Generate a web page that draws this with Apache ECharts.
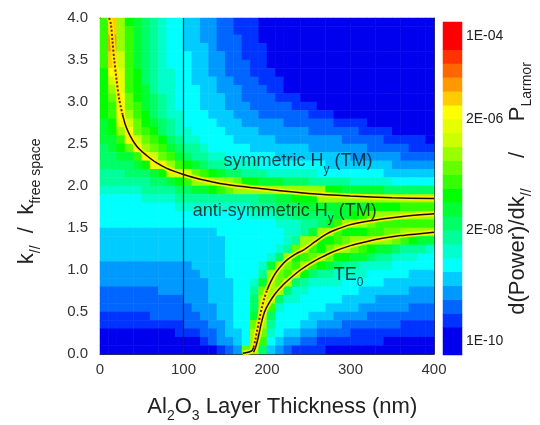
<!DOCTYPE html>
<html>
<head>
<meta charset="utf-8">
<script src="https://cdn.jsdelivr.net/npm/echarts@6/dist/echarts.min.js"></script>
<style>
html, body { margin: 0; padding: 0; background: #fff; }
#main { width: 540px; height: 425px; }
</style>
</head>
<body>
<div id="main"></div>
<script>
// contour level of each cell, one string per row (top row first)
// rows: k = 3.95 ... 0.05, columns: thickness 5 ... 395 nm
// codes 0-9 a-l -> level 0..21 (0 = 1E-10 end of the colour bar, 21 = 1E-04 end)
var levelRows = [
    "bhda987655" + "4433221110" + "0000000000" + "0000000000",
    "bhdb987655" + "4433221110" + "0000000000" + "0000000000",
    "bidb987655" + "4433222110" + "0000000000" + "0000000000",
    "bidb987655" + "4443222111" + "0000000000" + "0000000000",
    "bheb987655" + "5443322111" + "0000000000" + "0000000000",
    "bheb987655" + "5443322211" + "0000000000" + "0000000000",
    "agfba87665" + "5443322211" + "1000000000" + "0000000000",
    "aefba87665" + "5444332221" + "1100000000" + "0000000000",
    "adfba97665" + "5544333222" + "1100000000" + "0000000000",
    "acgca98765" + "5544433222" + "2111000000" + "0000000000",
    "abgcb98765" + "5544433322" + "2221110000" + "0000000000",
    "abgdba8766" + "5554443332" + "2222211100" + "0000000000",
    "9afeca9876" + "5555444333" + "3322222211" + "1100000000",
    "9adgcba876" + "6555544443" + "3333322222" + "2111100000",
    "99bgecba87" + "6655554444" + "4333333332" + "2222111110",
    "89acgdcb98" + "7765555544" + "4444433333" + "3322222111",
    "8899bgecb9" + "8776655555" + "5444444444" + "3333332222",
    "88889affdb" + "a987766665" + "5555555444" + "4444433333",
    "7778889aee" + "ecba988777" + "6666665555" + "5555444444",
    "777777889a" + "bdddddcaa9" + "9988877777" + "6666655555",
    "6666677778" + "899abcdddd" + "dddddddaa9" + "9999888888",
    "5555566667" + "7777777778" + "899aaadddd" + "dddddddddd",
    "5555555556" + "6666666677" + "7888999999" + "99aaaabbbb",
    "5555555555" + "5555555566" + "6778888899" + "abcddddddd",
    "5555555555" + "5555555555" + "56667789bd" + "ddcbbbbbbb",
    "4444444444" + "4444555555" + "556679ddba" + "aabbccdddd",
    "4444444444" + "4444455555" + "5567ddaabc" + "dddddcba99",
    "4444444444" + "4444455555" + "567cdbacdd" + "cba9987776",
    "4444444444" + "4444455555" + "68dabcdcaa" + "9987766655",
    "3333333333" + "3444455556" + "9dcbdba987" + "7666655555",
    "3333333333" + "3344455557" + "dcbda87766" + "6655555444",
    "3333333333" + "3334445569" + "dcd8766665" + "5555444444",
    "2222222333" + "333444557c" + "dd86655555" + "5444444333",
    "2222222222" + "333444558d" + "d866555554" + "4443333333",
    "2222222222" + "233344558d" + "b655555444" + "4333333222",
    "1111112222" + "223344559d" + "8555544433" + "3322222222",
    "1111111111" + "22233455cd" + "7555443332" + "2222221111",
    "0000000001" + "11223445dc" + "6544332222" + "1111111111",
    "0000000000" + "00123345db" + "5433221111" + "1111000000",
    "0000000000" + "0000123cd8" + "4321111000" + "0000000000"
];

// cell centres
var thickness = [5, 15, 25, 35, 45, 55, 65, 75, 85, 95, 105, 115, 125, 135, 145, 155, 165, 175, 185, 195,
                 205, 215, 225, 235, 245, 255, 265, 275, 285, 295, 305, 315, 325, 335, 345, 355, 365, 375, 385, 395];
var kRatio = [0.05, 0.15, 0.25, 0.35, 0.45, 0.55, 0.65, 0.75, 0.85, 0.95, 1.05, 1.15, 1.25, 1.35, 1.45, 1.55,
              1.65, 1.75, 1.85, 1.95, 2.05, 2.15, 2.25, 2.35, 2.45, 2.55, 2.65, 2.75, 2.85, 2.95, 3.05, 3.15,
              3.25, 3.35, 3.45, 3.55, 3.65, 3.75, 3.85, 3.95];

// colour bar: 22 levels, blue -> cyan -> green -> yellow -> red
var levelColors = ['#0000ee', '#0033ff', '#0066ff', '#0099ff', '#00ccff', '#00ffff', '#00ffcc', '#00ff99',
                   '#00ff66', '#00ff33', '#00ff00', '#33ff00', '#66ff00', '#99ff00', '#ccff00', '#e6ff00',
                   '#ffff00', '#ffcc00', '#ff9900', '#ff6600', '#ff3300', '#ff0000'];
// colour bar cells bottom to top (end levels are twice as tall)
var colorbarLevels = [0, 0, 1, 2, 3, 4, 5, 6, 7, 8, 9, 10, 11, 12, 13, 14, 15, 16, 17, 18, 19, 20, 21, 21];
var colorbarTicks = [1, 9, 17, 23];
var colorbarText = ['1E-10', '2E-08', '2E-06', '1E-04'];

// mode curves
var symX = [11, 13, 15, 17, 20, 23, 27, 31, 36, 42, 47, 55, 67, 80, 99, 120, 150, 200, 250, 300, 350, 400];
var symK = [4.0, 3.93, 3.72, 3.51, 3.25, 3.03, 2.85, 2.71, 2.6, 2.5, 2.44, 2.37, 2.28, 2.21, 2.14, 2.08, 2.02, 1.96, 1.91, 1.88, 1.86, 1.85];
var antiX = [171, 177, 182, 184, 186, 188, 190, 192, 194, 197, 200, 205, 210, 216, 224, 234, 244, 258, 270, 280, 300, 320, 340, 360, 380, 400];
var antiK = [0.01, 0.02, 0.04, 0.08, 0.17, 0.27, 0.37, 0.47, 0.56, 0.67, 0.76, 0.87, 0.96, 1.04, 1.12, 1.19, 1.24, 1.34, 1.42, 1.47, 1.54, 1.58, 1.61, 1.635, 1.655, 1.67];
var teX = [184, 187, 190, 193, 197, 202, 210, 220, 230, 240, 252, 265, 280, 300, 320, 340, 360, 380, 400];
var teK = [0.02, 0.1, 0.22, 0.36, 0.5, 0.6, 0.72, 0.83, 0.92, 1.0, 1.08, 1.15, 1.22, 1.29, 1.34, 1.38, 1.41, 1.43, 1.45];
// the steep stretches are drawn dotted in the original: [first, last] point index
var symDotted = [0, 6];
var antiDotted = [3, 10];
var guideThickness = 100;

var notes = [
    { text: '{t|symmetric H}{s|y}{t| (TM)}', at: [148, 2.28] },
    { text: '{t|anti-symmetric H}{s|y}{t| (TM)}', at: [111, 1.69] },
    { text: '{t|TE}{s|0}', at: [280, 0.93] }
];

var FONT = "'Liberation Sans', Arial, sans-serif";

function pairs(xs, ys) {
    return xs.map(function (x, i) { return [x, ys[i]]; });
}

var heatData = [];
levelRows.forEach(function (row, r) {
    for (var c = 0; c < row.length; c++) {
        heatData.push([c, levelRows.length - 1 - r, parseInt(row.charAt(c), 36)]);
    }
});
var barData = colorbarLevels.map(function (lv, i) { return [0, i, lv]; });

var pieces = levelColors.map(function (col, i) { return { value: i, color: col }; });

var nameRich = {
    a: { fontSize: 22, lineHeight: 24, verticalAlign: 'top', color: '#222', fontFamily: FONT },
    s: { fontSize: 14, lineHeight: 13, padding: [13, 0, 0, 0], verticalAlign: 'top', color: '#222', fontFamily: FONT }
};
var noteRich = {
    t: { fontSize: 18, lineHeight: 20, verticalAlign: 'top', color: '#111', fontFamily: FONT },
    s: { fontSize: 12, lineHeight: 11, padding: [11, 0, 0, 0], verticalAlign: 'top', color: '#111', fontFamily: FONT }
};

var frameLine = { show: true, onZero: false, lineStyle: { color: '#333', width: 1 } };
var tickIn = { show: true, inside: true, length: 5, lineStyle: { color: '#333' } };
var minorIn = { show: true, splitNumber: 2, length: 5, lineStyle: { color: '#333' } };

function lineSeries(data, style, z) {
    return {
        type: 'line', xAxisIndex: 0, yAxisIndex: 0, data: data,
        showSymbol: false, smooth: 0.3, silent: true, lineStyle: style, z: z
    };
}

// halo, solid core and dotted steep part of one mode curve
function curve(xs, ys, dotted) {
    var pts = pairs(xs, ys);
    var out = [lineSeries(pts, { color: '#ffee00', width: 5, opacity: 0.9 }, 3)];
    if (!dotted) {
        out.push(lineSeries(pts, { color: '#1a0a00', width: 1.5 }, 4));
        return out;
    }
    if (dotted[0] > 0) {
        out.push(lineSeries(pts.slice(0, dotted[0] + 1), { color: '#1a0a00', width: 1.5 }, 4));
    }
    out.push(lineSeries(pts.slice(dotted[0], dotted[1] + 1),
        { color: '#8a1500', width: 2, type: [2, 2] }, 4));
    out.push(lineSeries(pts.slice(dotted[1]), { color: '#1a0a00', width: 1.5 }, 4));
    return out;
}

var series = [
    {
        type: 'heatmap', xAxisIndex: 2, yAxisIndex: 2, data: heatData, silent: true,
        itemStyle: { borderWidth: 0 }, emphasis: { disabled: true }, progressive: 0
    },
    {
        type: 'heatmap', xAxisIndex: 3, yAxisIndex: 3, data: barData, silent: true,
        itemStyle: { borderWidth: 0 }, emphasis: { disabled: true }
    },
    {
        type: 'line', xAxisIndex: 0, yAxisIndex: 0, silent: true, showSymbol: false,
        data: [[guideThickness, 0], [guideThickness, 4]],
        lineStyle: { color: '#222', width: 1.2 }, z: 5
    }
];
series = series.concat(curve(symX, symK, symDotted), curve(antiX, antiK, antiDotted), curve(teX, teK, null));
series.push({
    type: 'scatter', xAxisIndex: 0, yAxisIndex: 0, symbolSize: 0, silent: true, z: 6,
    data: notes.map(function (n) {
        return { value: n.at, label: { formatter: n.text } };
    }),
    label: { show: true, position: 'right', distance: 0, rich: noteRich }
});

var chart = echarts.init(document.getElementById('main'));
chart.setOption({
    backgroundColor: '#fff',
    animation: false,
    textStyle: { fontFamily: FONT },
    grid: [
        { left: 100, top: 18, width: 334, height: 336, containLabel: false, outerBoundsMode: 'none' },
        { left: 443, top: 22, width: 19, height: 333, containLabel: false, outerBoundsMode: 'none' }
    ],
    xAxis: [
        {
            type: 'value', gridIndex: 0, min: 0, max: 400, interval: 100, position: 'bottom',
            axisLine: frameLine, axisTick: tickIn, minorTick: minorIn, splitLine: { show: false },
            axisLabel: { color: '#333', fontSize: 15, margin: 8, fontFamily: FONT },
            name: '{a|     Al}{s|2}{a|O}{s|3}{a| Layer Thickness (nm)}',
            nameLocation: 'middle', nameGap: 42, nameTextStyle: { rich: nameRich }
        },
        {
            type: 'value', gridIndex: 0, min: 0, max: 400, interval: 100, position: 'top',
            axisLine: frameLine, axisTick: tickIn, minorTick: minorIn, splitLine: { show: false },
            axisLabel: { show: false }
        },
        { type: 'category', gridIndex: 0, data: thickness, show: false },
        { type: 'category', gridIndex: 1, data: ['bar'], show: false }
    ],
    yAxis: [
        {
            type: 'value', gridIndex: 0, min: 0, max: 4, interval: 0.5, position: 'left',
            axisLine: frameLine, axisTick: tickIn, minorTick: minorIn, splitLine: { show: false },
            axisLabel: { color: '#333', fontSize: 15, margin: 12, fontFamily: FONT,
                formatter: function (v) { return v.toFixed(1); } },
            name: '{a|k}{s|//}{a|  /  k}{s|free space}{a|     }',
            nameLocation: 'middle', nameRotate: 90, nameGap: 60, nameTextStyle: { rich: nameRich }
        },
        {
            type: 'value', gridIndex: 0, min: 0, max: 4, interval: 0.5, position: 'right',
            axisLine: frameLine, axisTick: tickIn, minorTick: minorIn, splitLine: { show: false },
            axisLabel: { show: false }
        },
        { type: 'category', gridIndex: 0, data: kRatio, show: false },
        { type: 'category', gridIndex: 1, data: colorbarLevels.map(function (v, i) { return i; }), show: false },
        {
            type: 'value', gridIndex: 1, min: 0, max: 24, position: 'right',
            axisLine: { show: false }, axisTick: { show: false }, splitLine: { show: false },
            axisLabel: {
                customValues: colorbarTicks, color: '#222', fontSize: 14, margin: 4, fontFamily: FONT,
                formatter: function (v) {
                    var i = colorbarTicks.indexOf(v);
                    return i < 0 ? '' : colorbarText[i];
                }
            },
            name: '{a|d(Power)/dk}{s|//}{a|     /     P}{s|Larmor}',
            nameLocation: 'middle', nameRotate: 90, nameGap: 33, nameTextStyle: { rich: nameRich }
        }
    ],
    visualMap: {
        type: 'piecewise', show: false, dimension: 2, seriesIndex: [0, 1], pieces: pieces
    },
    series: series
});
</script>
</body>
</html>
